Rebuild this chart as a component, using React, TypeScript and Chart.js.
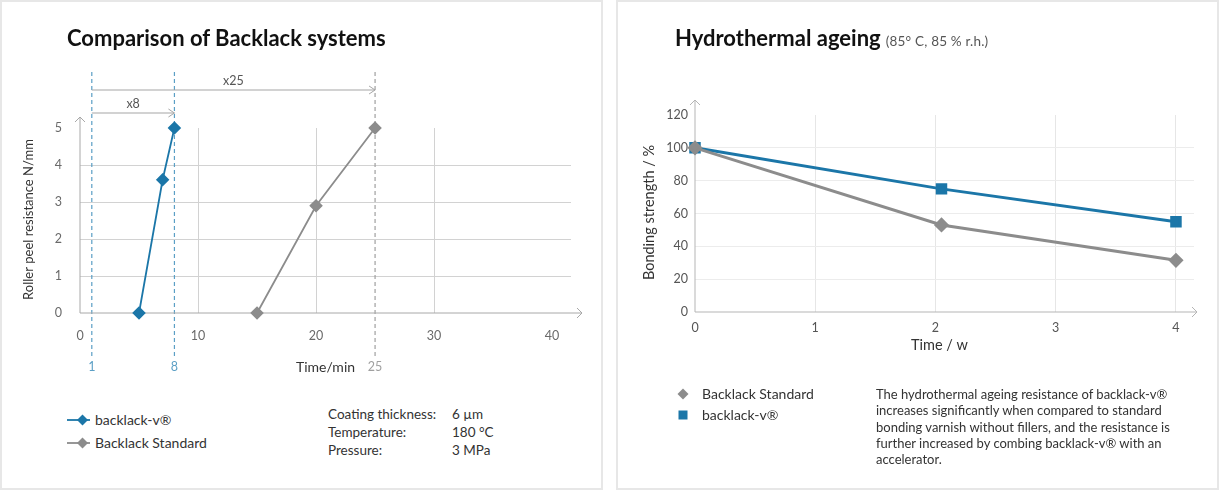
import React, { useEffect, useRef } from "react";
import { Chart, registerables } from "chart.js";
Chart.register(...registerables);

const FONT = "Lato, 'Open Sans', sans-serif";
const BLUE = "#1b76a8";
const GRAY = "#8c8c8c";
const TEAL = "#5b9fc5";

// ---------- left chart data ----------
const seriesNames = ["backlack-v®", "Backlack Standard"];
const curingTimeV = [5, 7, 8];
const peelV = [0, 3.6, 5];
const curingTimeStd = [15, 20, 25];
const peelStd = [0, 2.9, 5];
const leftXTicks = [0, 10, 20, 30, 40];
const leftYTicks = [0, 1, 2, 3, 4, 5];
const markerTimes = [1, 8, 25];
const markerLabels = ["1", "8", "25"];
const ratioStart = 1;
const ratioEnds = [8, 25];
const ratioLabels = ["x8", "x25"];

// ---------- right chart data ----------
const weeksStd = [0, 2.05, 4];
const strengthStd = [100, 53, 31.5];
const weeksV = [0, 2.05, 4];
const strengthV = [100, 75, 55];
const rightXTicks = [0, 1, 2, 3, 4];
const rightYTicks = [0, 20, 40, 60, 80, 100, 120];

function drawArrowAxes(ctx: CanvasRenderingContext2D, a: any, xEnd: number, yEnd: number, color: string) {
  ctx.save();
  ctx.strokeStyle = color;
  ctx.lineWidth = 1;
  ctx.setLineDash([]);
  ctx.beginPath();
  ctx.moveTo(a.left, a.bottom);
  ctx.lineTo(xEnd, a.bottom);
  ctx.moveTo(xEnd - 5, a.bottom - 5);
  ctx.lineTo(xEnd, a.bottom);
  ctx.lineTo(xEnd - 5, a.bottom + 5);
  ctx.moveTo(a.left, a.bottom);
  ctx.lineTo(a.left, yEnd);
  ctx.moveTo(a.left - 5, yEnd + 5);
  ctx.lineTo(a.left, yEnd);
  ctx.lineTo(a.left + 5, yEnd + 5);
  ctx.stroke();
  ctx.restore();
}

const leftDecor = {
  id: "leftDecor",
  beforeDatasetsDraw(chart: any) {
    const { ctx, chartArea: a, scales } = chart;
    const xs = scales.x;
    ctx.save();
    markerTimes.forEach((t, i) => {
      const px = xs.getPixelForValue(t);
      ctx.strokeStyle = i < 2 ? TEAL : "#a0a0a0";
      ctx.setLineDash([4, 3]);
      ctx.lineWidth = 1.2;
      ctx.beginPath();
      ctx.moveTo(px, a.top - 56);
      ctx.lineTo(px, a.bottom + 43);
      ctx.stroke();
    });
    ctx.setLineDash([]);
    ratioEnds.forEach((end, i) => {
      const x0 = xs.getPixelForValue(ratioStart);
      const x1 = xs.getPixelForValue(end);
      const y = i === 0 ? a.top - 15 : a.top - 38;
      ctx.strokeStyle = "#a5a5a5";
      ctx.lineWidth = 1;
      ctx.beginPath();
      ctx.moveTo(x0, y);
      ctx.lineTo(x1, y);
      ctx.moveTo(x1 - 6, y - 4);
      ctx.lineTo(x1, y);
      ctx.lineTo(x1 - 6, y + 4);
      ctx.stroke();
      ctx.fillStyle = "#555";
      ctx.font = `12.5px ${FONT}`;
      ctx.textAlign = "center";
      ctx.textBaseline = "middle";
      ctx.fillText(ratioLabels[i], (x0 + x1) / 2, y - 9);
    });
    ctx.restore();
    drawArrowAxes(ctx, a, a.right + 11, a.top - 11, "#a8a8a8");
  },
  afterDraw(chart: any) {
    const { ctx, chartArea: a, scales } = chart;
    const xs = scales.x;
    ctx.save();
    ctx.textAlign = "center";
    ctx.textBaseline = "middle";
    ctx.font = `12.5px ${FONT}`;
    markerTimes.forEach((t, i) => {
      ctx.fillStyle = i < 2 ? TEAL : "#a0a0a0";
      ctx.fillText(markerLabels[i], xs.getPixelForValue(t), a.bottom + 54);
    });
    ctx.fillStyle = "#333";
    ctx.font = `14px ${FONT}`;
    ctx.fillText("Time/min", (a.left + a.right) / 2, a.bottom + 54);
    ctx.translate(29, (a.top + a.bottom) / 2 - 1);
    ctx.rotate(-Math.PI / 2);
    ctx.font = `13px ${FONT}`;
    ctx.fillText("Roller peel resistance N/mm", 0, 0);
    ctx.restore();
  },
};

const rightDecor = {
  id: "rightDecor",
  beforeDatasetsDraw(chart: any) {
    const { ctx, chartArea: a } = chart;
    drawArrowAxes(ctx, a, a.right + 3, a.top - 15, "#b5b5b5");
  },
  afterDraw(chart: any) {
    const { ctx, chartArea: a } = chart;
    ctx.save();
    ctx.textAlign = "center";
    ctx.textBaseline = "middle";
    ctx.fillStyle = "#333";
    ctx.font = `14.5px ${FONT}`;
    ctx.fillText("Time / w", (a.left + a.right) / 2 - 5, a.bottom + 33);
    ctx.translate(39, (a.top + a.bottom) / 2 - 1);
    ctx.rotate(-Math.PI / 2);
    ctx.fillText("Bonding strength / %", 0, 0);
    ctx.restore();
  },
};

const tickFont = { size: 12.5, family: FONT };

export default function App() {
  const leftRef = useRef<HTMLCanvasElement>(null);
  const rightRef = useRef<HTMLCanvasElement>(null);

  useEffect(() => {
    document.body.style.margin = "0";
    Chart.defaults.font.family = FONT;

    const left = new Chart(leftRef.current as HTMLCanvasElement, {
      type: "line",
      data: {
        datasets: [
          {
            label: seriesNames[0],
            data: curingTimeV.map((x, i) => ({ x, y: peelV[i] })),
            borderColor: BLUE,
            backgroundColor: BLUE,
            borderWidth: 1.8,
            pointStyle: "rectRot",
            pointRadius: 5.5,
            pointHoverRadius: 5.5,
            tension: 0,
            clip: false,
          } as any,
          {
            label: seriesNames[1],
            data: curingTimeStd.map((x, i) => ({ x, y: peelStd[i] })),
            borderColor: GRAY,
            backgroundColor: GRAY,
            borderWidth: 1.8,
            pointStyle: "rectRot",
            pointRadius: 5.5,
            pointHoverRadius: 5.5,
            tension: 0,
            clip: false,
          } as any,
        ],
      },
      options: {
        animation: false,
        responsive: true,
        maintainAspectRatio: false,
        events: [],
        layout: { padding: { left: 40, right: 31, top: 128, bottom: 47 } },
        plugins: { legend: { display: false }, tooltip: { enabled: false } },
        scales: {
          x: {
            type: "linear",
            min: 0,
            max: 41.6,
            afterBuildTicks: (s: any) => {
              s.ticks = leftXTicks.map((value) => ({ value }));
            },
            afterFit: (s: any) => {
              s.height = 40;
            },
            grid: {
              color: (c: any) => (c.tick && c.tick.value > 0 && c.tick.value < 40 ? "#d2d2d2" : "rgba(0,0,0,0)"),
              drawTicks: false,
              lineWidth: 1,
            },
            border: { display: false },
            ticks: { padding: 15, color: "#6a6a6a", font: tickFont },
          },
          y: {
            type: "linear",
            min: 0,
            max: 5,
            afterBuildTicks: (s: any) => {
              s.ticks = leftYTicks.map((value) => ({ value }));
            },
            afterFit: (s: any) => {
              s.width = 40;
            },
            grid: {
              color: (c: any) => (c.tick && c.tick.value > 0 && c.tick.value < 5 ? "#d2d2d2" : "rgba(0,0,0,0)"),
              drawTicks: false,
              lineWidth: 1,
            },
            border: { display: false },
            ticks: { padding: 18, color: "#6a6a6a", font: tickFont },
          },
        },
      } as any,
      plugins: [leftDecor],
    });

    const right = new Chart(rightRef.current as HTMLCanvasElement, {
      type: "line",
      data: {
        datasets: [
          {
            label: "Backlack Standard",
            data: weeksStd.map((x, i) => ({ x, y: strengthStd[i] })),
            borderColor: GRAY,
            backgroundColor: GRAY,
            borderWidth: 3,
            pointStyle: "rectRot",
            pointRadius: 5.5,
            pointHoverRadius: 5.5,
            tension: 0,
            clip: false,
          } as any,
          {
            label: "backlack-v®",
            data: weeksV.map((x, i) => ({ x, y: strengthV[i] })),
            borderColor: BLUE,
            backgroundColor: BLUE,
            borderWidth: 3,
            pointStyle: "rect",
            pointRadius: 6,
            pointHoverRadius: 6,
            tension: 0,
            clip: false,
          } as any,
        ],
      },
      options: {
        animation: false,
        responsive: true,
        maintainAspectRatio: false,
        events: [],
        layout: { padding: { left: 45, right: 25, top: 115, bottom: 48 } },
        plugins: { legend: { display: false }, tooltip: { enabled: false } },
        scales: {
          x: {
            type: "linear",
            min: 0,
            max: 4.15,
            afterBuildTicks: (s: any) => {
              s.ticks = rightXTicks.map((value) => ({ value }));
            },
            afterFit: (s: any) => {
              s.height = 40;
            },
            grid: {
              color: (c: any) => (c.tick && c.tick.value > 0 ? "#e6e6e6" : "rgba(0,0,0,0)"),
              drawTicks: false,
              lineWidth: 1,
            },
            border: { display: false },
            ticks: { padding: 8, color: "#555", font: tickFont },
          },
          y: {
            type: "linear",
            min: 0,
            max: 120,
            afterBuildTicks: (s: any) => {
              s.ticks = rightYTicks.map((value) => ({ value }));
            },
            afterFit: (s: any) => {
              s.width = 40;
            },
            grid: {
              color: (c: any) => (c.tick && c.tick.value > 0 && c.tick.value < 120 ? "#ececec" : "rgba(0,0,0,0)"),
              drawTicks: false,
              lineWidth: 1,
            },
            border: { display: false },
            ticks: { padding: 7, color: "#555", font: tickFont },
          },
        },
      } as any,
      plugins: [rightDecor],
    });

    return () => {
      left.destroy();
      right.destroy();
    };
  }, []);

  const abs = (l: number, t: number, extra: React.CSSProperties = {}): React.CSSProperties => ({
    position: "absolute",
    left: l,
    top: t,
    whiteSpace: "nowrap",
    ...extra,
  });
  const body: React.CSSProperties = { fontFamily: FONT, fontSize: 14, color: "#333", lineHeight: "18px" };
  const info: React.CSSProperties = { fontFamily: FONT, fontSize: 13.5, color: "#333", lineHeight: "18px" };

  return (
    <div
      style={{
        position: "fixed",
        left: 0,
        top: 0,
        width: 1219,
        height: 491,
        background: "#fff",
        overflow: "hidden",
        fontFamily: FONT,
      }}
    >
      <div style={{ position: "absolute", left: 0, top: 0, width: 603, height: 490, border: "2px solid #e7e7e7", boxSizing: "border-box" }} />
      <div style={{ position: "absolute", left: 616, top: 0, width: 603, height: 490, border: "2px solid #e7e7e7", boxSizing: "border-box" }} />

      <div style={{ position: "absolute", left: 0, top: 0, width: 602, height: 400 }}>
        <canvas ref={leftRef} />
      </div>
      <div style={{ position: "absolute", left: 610, top: 0, width: 609, height: 400 }}>
        <canvas ref={rightRef} />
      </div>

      {/* titles */}
      <div style={abs(67, 24, { fontSize: 22, fontWeight: 700, color: "#111", lineHeight: "27px" })}>
        Comparison of Backlack systems
      </div>
      <div style={abs(675, 24, { fontSize: 22, fontWeight: 700, color: "#111", lineHeight: "27px" })}>
        Hydrothermal ageing
        <span style={{ fontSize: 13.5, fontWeight: 400, color: "#555", marginLeft: 5, letterSpacing: 0.2 }}>(85° C, 85 % r.h.)</span>
      </div>

      {/* left legend */}
      {seriesNames.map((name, i) => (
        <React.Fragment key={name}>
          <svg style={abs(66, (i === 0 ? 420 : 443) - 7)} width={28} height={14}>
            <line x1={1} y1={7} x2={24} y2={7} stroke={i === 0 ? BLUE : GRAY} strokeWidth={1.8} />
            <polygon points="16.5,1.5 22,7 16.5,12.5 11,7" fill={i === 0 ? BLUE : GRAY} />
          </svg>
          <div style={abs(95, (i === 0 ? 420 : 443) - 9, body)}>{name}</div>
        </React.Fragment>
      ))}

      {/* left info block */}
      <div style={abs(328, 405, info)}>Coating thickness:</div>
      <div style={abs(452, 405, info)}>6 µm</div>
      <div style={abs(328, 423, info)}>Temperature:</div>
      <div style={abs(452, 423, info)}>180 °C</div>
      <div style={abs(328, 441, info)}>Pressure:</div>
      <div style={abs(452, 441, info)}>3 MPa</div>

      {/* right legend */}
      <svg style={abs(676, 387)} width={14} height={14}>
        <polygon points="7,1.5 12.5,7 7,12.5 1.5,7" fill={GRAY} />
      </svg>
      <div style={abs(702, 385, body)}>Backlack Standard</div>
      <svg style={abs(676, 408)} width={14} height={14}>
        <rect x={2.5} y={2.5} width={9} height={9} fill={BLUE} />
      </svg>
      <div style={abs(702, 406, body)}>backlack-v®</div>

      {/* right paragraph */}
      <div style={abs(876, 386, { fontFamily: FONT, fontSize: 13, color: "#333", lineHeight: "16.3px" })}>
        The hydrothermal ageing resistance of backlack-v®
        <br />
        increases significantly when compared to standard
        <br />
        bonding varnish without fillers, and the resistance is
        <br />
        further increased by combing backlack-v® with an
        <br />
        accelerator.
      </div>
    </div>
  );
}
